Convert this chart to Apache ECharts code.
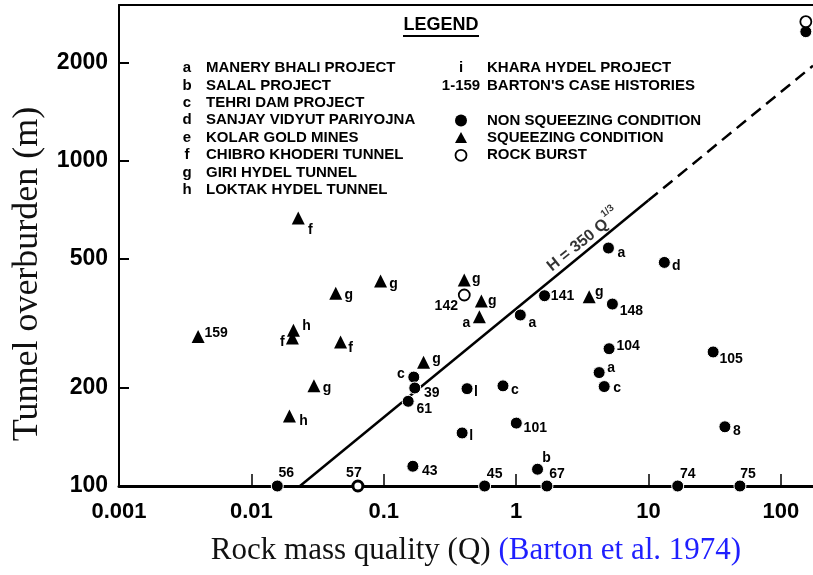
<!DOCTYPE html>
<html><head><meta charset="utf-8">
<script src="https://cdn.jsdelivr.net/npm/echarts@6/dist/echarts.min.js"></script>
<style>html,body{margin:0;padding:0;background:#fff}#c{width:813px;height:575px}</style>
</head><body><div id="c"></div>
<script>
// ---- tick labels ----
const xTickLabels = [0.001, 0.01, 0.1, 1, 10, 100];
const xTickMarks = [0.01, 0.1, 1, 10, 100];
const yTickLabels = [100, 200, 500, 1000, 2000];
const yTickMarks = [200, 500, 1000, 2000];

// ---- squeezing condition (triangles) ----
const sqQ = [0.0226, 0.0434, 0.0946, 0.00396, 0.0208, 0.0204, 0.0472, 0.0297, 0.0194, 0.200, 0.406, 0.5465, 0.528, 3.565];
const sqH = [665, 391, 426, 288, 301, 285, 277, 203, 164, 240, 429, 370, 331, 381];
const sqLbl = ['f', 'g', 'g', '159', 'h', 'f', 'f', 'g', 'h', 'g', 'g', 'g', 'a', 'g'];

// ---- non squeezing condition (filled circles) ----
const nsQ = [0.1687, 0.1716, 0.153, 0.166, 0.0157, 0.0638, 1.076, 1.64, 5.34, 4.985, 13.18, 5.04, 4.24, 4.63, 30.8, 37.8, 0.426, 0.796, 1.0035, 0.391, 1.452, 0.5785, 1.71, 16.63, 49.1, 154.5];
const nsH = [216, 200, 182, 115, 100, 100, 335, 384, 362, 538, 486, 264, 223, 202, 258, 152, 199, 203, 156, 145.5, 112.6, 100, 100, 100, 100, 2484];
const nsLbl = ['c', '39', '61', '43', '56', '57', 'a', '141', '148', 'a', 'd', '104', 'a', 'c', '105', '8', 'l', 'c', '101', 'l', 'b', '45', '67', '74', '75', ''];

// ---- rock burst (open circles) ----
const rbQ = [0.406, 154.5];
const rbH = [386, 2667];
const rbLbl = ['142', ''];

// ---- fitted line H = 350 Q^(1/3) ----
const fitSolidQ = [0.0233, 10];
const fitSolidH = [100, 754];
const fitDashQ = [10, 175];
const fitDashH = [754, 1953];
const fitLabelQ = [3.2];
const fitLabelH = [570];

// ---- legend texts ----
const projectCodes = ['a', 'b', 'c', 'd', 'e', 'f', 'g', 'h'];
const projectNames = ['MANERY BHALI PROJECT', 'SALAL PROJECT', 'TEHRI DAM PROJECT', 'SANJAY VIDYUT PARIYOJNA', 'KOLAR GOLD MINES', 'CHIBRO KHODERI TUNNEL', 'GIRI HYDEL TUNNEL', 'LOKTAK HYDEL TUNNEL'];
const otherCodes = ['i', '1-159'];
const otherNames = ['KHARA HYDEL PROJECT', "BARTON'S CASE HISTORIES"];
const conditionNames = ['NON SQUEEZING CONDITION', 'SQUEEZING CONDITION', 'ROCK BURST'];

// ---- label placement (style, offsets in px from marker centre) ----
const sqOff = [[12,12],[13,2],[13,3],[18,-3],[13,-4],[-10,4],[10,6],[13,2],[14,5],[13,-3],[12,-1],[11,0],[-13,6],[10,-5]];
const nsOff = [[-13,-3],[17,5],[16,8],[17,5],[9,-13],[-4,-13],[12,8],[18,0],[19,7],[13,5],[12,4],[19,-3],[12,-4],[13,2],[18,7],[12,4],[9,3],[12,4],[19,5],[9,3],[9,-11],[10,-12],[10,-12],[10,-12],[8,-12],[0,0]];
const rbOff = [[-18,11],[0,0]];

const INK = '#000';
const SANS = 'Liberation Sans';
const SERIF = 'Liberation Serif';

function mkItems(qs, hs, lbls, offs) {
  return qs.map((q, i) => {
    const it = {
      value: [q, hs[i]],
      label: {
        show: !!lbls[i], formatter: lbls[i], position: 'inside', offset: offs[i],
        align: 'center', verticalAlign: 'middle', color: INK, fontSize: 14, fontWeight: 'bold',
        fontFamily: SANS, textBorderWidth: 0
      }
    };
    if (lbls[i] === '57') {
      it.symbolSize = 10;
      it.itemStyle = { color: '#fff', borderColor: INK, borderWidth: 3, opacity: 1 };
    }
    return it;
  });
}

const chart = echarts.init(document.getElementById('c'), null, { renderer: 'canvas' });

const LF = { fontSize: 15, fontFamily: SANS, fontWeight: 'bold', fill: INK, verticalAlign: 'middle' };
const g = [];
g.push({ type: 'text', x: 441, y: 25, style: Object.assign({}, LF, { text: 'LEGEND', fontSize: 18, align: 'center' }) });
g.push({ type: 'line', shape: { x1: 403, y1: 36, x2: 479, y2: 36 }, style: { stroke: INK, lineWidth: 2 } });
projectCodes.forEach((c, i) => {
  const y = 68 + 17.4 * i;
  g.push({ type: 'text', x: 187, y: y, style: Object.assign({}, LF, { text: c, align: 'center' }) });
  g.push({ type: 'text', x: 206, y: y, style: Object.assign({}, LF, { text: projectNames[i], align: 'left' }) });
});
otherCodes.forEach((c, i) => {
  const y = 68 + 17.4 * i;
  g.push({ type: 'text', x: 461, y: y, style: Object.assign({}, LF, { text: c, align: 'center' }) });
  g.push({ type: 'text', x: 487, y: y, style: Object.assign({}, LF, { text: otherNames[i], align: 'left' }) });
});
conditionNames.forEach((n, i) => {
  const y = 120.5 + 17.4 * i;
  if (i === 0) g.push({ type: 'circle', shape: { cx: 461, cy: y, r: 6 }, style: { fill: INK } });
  if (i === 1) g.push({ type: 'polygon', shape: { points: [[455, y + 5], [467, y + 5], [461, y - 6]] }, style: { fill: INK } });
  if (i === 2) g.push({ type: 'circle', shape: { cx: 461, cy: y, r: 5.5 }, style: { fill: '#fff', stroke: INK, lineWidth: 1.8 } });
  g.push({ type: 'text', x: 487, y: y, style: Object.assign({}, LF, { text: n, align: 'left' }) });
});

const option = {
  backgroundColor: '#fff',
  animation: false,
  grid: { left: 119, right: 0, top: 5, bottom: 89, containLabel: false },
  xAxis: [{
    type: 'log', logBase: 10, min: 0.001, max: 175,
    axisLine: { show: true, lineStyle: { color: INK, width: 3 } },
    axisTick: { show: true, inside: true, length: 12, lineStyle: { color: INK, width: 1.5 }, customValues: xTickMarks },
    axisLabel: { customValues: xTickLabels, formatter: v => String(+(+v).toPrecision(6)), fontSize: 22, fontWeight: 'bold', fontFamily: SANS, color: INK, margin: 15 },
    splitLine: { show: false },
    name: '{a|Rock mass quality (Q)} {b|(Barton et al. 1974)}',
    nameLocation: 'middle', nameGap: 49,
    nameTextStyle: {
      fontFamily: SERIF, fontSize: 31, color: INK, padding: [0, 0, 0, 20],
      rich: { a: { fontFamily: SERIF, fontSize: 31, color: '#111' }, b: { fontFamily: SERIF, fontSize: 31, color: '#1f1fff' } }
    }
  }, {
    type: 'log', logBase: 10, min: 0.001, max: 175, position: 'top',
    axisLine: { show: true, lineStyle: { color: INK, width: 2 } },
    axisTick: { show: false }, axisLabel: { show: false }, splitLine: { show: false }
  }],
  yAxis: {
    type: 'log', logBase: 10, min: 100, max: 3000,
    axisLine: { show: true, lineStyle: { color: INK, width: 2 } },
    axisTick: { show: true, inside: true, length: 10, lineStyle: { color: INK, width: 2 }, customValues: yTickMarks },
    axisLabel: { customValues: yTickLabels, formatter: v => String(Math.round(v)), fontSize: 23, fontWeight: 'bold', fontFamily: SANS, color: INK, margin: 11 },
    splitLine: { show: false },
    name: 'Tunnel overburden (m)', nameLocation: 'middle', nameGap: 72,
    nameTextStyle: { fontFamily: SERIF, fontSize: 36, color: '#111', padding: [0, 57, 0, 0] }
  },
  series: [
    {
      type: 'line', name: 'fit', data: fitSolidQ.map((q, i) => [q, fitSolidH[i]]),
      symbol: 'none', lineStyle: { color: INK, width: 2.5 }, z: 1, silent: true
    },
    {
      type: 'line', name: 'fitDash', data: fitDashQ.map((q, i) => [q, fitDashH[i]]),
      symbol: 'none', lineStyle: { color: INK, width: 2.5, type: [12, 7] }, z: 1, silent: true
    },
    {
      type: 'scatter', name: 'fitLabel', symbolSize: 0, z: 3,
      data: fitLabelQ.map((q, i) => ({
        value: [q, fitLabelH[i]],
        label: {
          show: true, position: 'inside', rotate: 39, color: INK,
          formatter: '{t|H = 350 Q}{s|1/3}',
          rich: {
            t: { fontSize: 16, fontWeight: 'bold', fontFamily: SANS, color: INK, verticalAlign: 'bottom', lineHeight: 18 },
            s: { fontSize: 10, fontWeight: 'bold', fontFamily: SANS, color: INK, verticalAlign: 'bottom', lineHeight: 10, padding: [0, 0, 11, 1] }
          }
        }
      }))
    },
    {
      type: 'scatter', name: 'SQUEEZING CONDITION', symbol: 'triangle', symbolSize: 13, z: 5,
      itemStyle: { color: INK, opacity: 1 },
      data: mkItems(sqQ, sqH, sqLbl, sqOff)
    },
    {
      type: 'scatter', name: 'NON SQUEEZING CONDITION', symbol: 'circle', symbolSize: 12, z: 5,
      itemStyle: { color: INK, borderColor: '#fff', borderWidth: 1, opacity: 1 },
      data: mkItems(nsQ, nsH, nsLbl, nsOff)
    },
    {
      type: 'scatter', name: 'ROCK BURST', symbol: 'circle', symbolSize: 11, z: 5,
      itemStyle: { color: '#fff', borderColor: INK, borderWidth: 1.8, opacity: 1 },
      data: mkItems(rbQ, rbH, rbLbl, rbOff)
    }
  ],
  graphic: g
};
chart.setOption(option);
</script>
</body></html>
